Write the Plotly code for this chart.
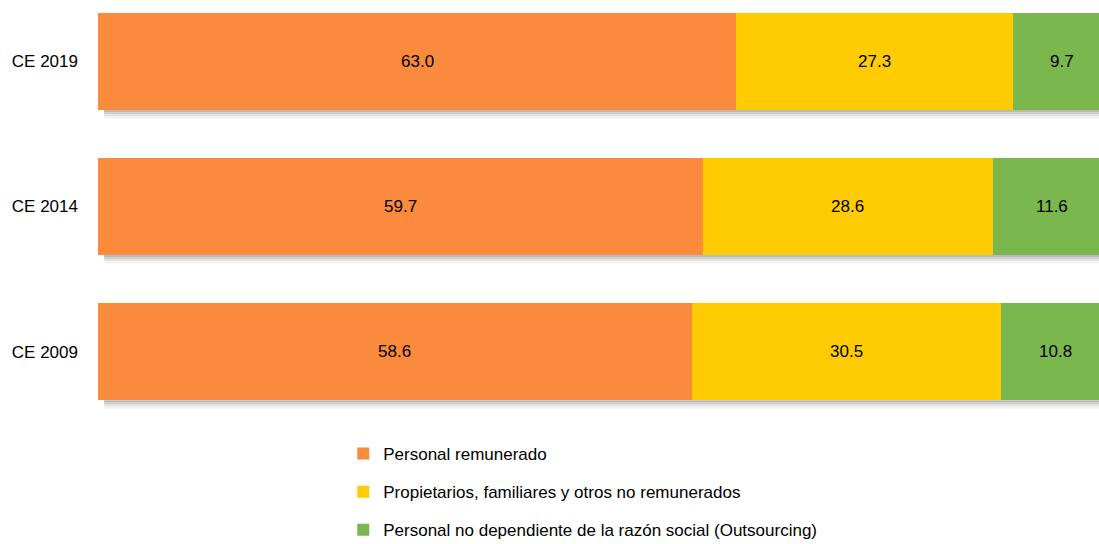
import plotly.graph_objects as go

categories = ["CE 2009", "CE 2014", "CE 2019"]
personal_remunerado = [58.6, 59.7, 63.0]
propietarios = [30.5, 28.6, 27.3]
outsourcing = [10.8, 11.6, 9.7]

series_names = [
    "Personal remunerado",
    "Propietarios, familiares y otros no remunerados",
    "Personal no dependiente de la razón social (Outsourcing)",
]
series_values = [personal_remunerado, propietarios, outsourcing]
colors = ["#FA8A3C", "#FFCC03", "#7AB84E"]

FONT = "Arial, Liberation Sans, sans-serif"
FS = 17
BAR_W = 0.67
ypos = list(range(len(categories)))

fig = go.Figure()
for name, vals, col in zip(series_names, series_values, colors):
    fig.add_trace(go.Bar(
        y=ypos, x=vals, name=name, orientation="h",
        marker=dict(color=col, line=dict(width=0)),
        width=BAR_W, legendgroup=name, hoverinfo="x+name",
    ))

# data labels centred on each segment
annotations = []
for i in ypos:
    base = 0.0
    for vals in series_values:
        v = vals[i]
        annotations.append(dict(
            x=base + v / 2, y=i, xref="x", yref="y", text=f"{v:.1f}",
            showarrow=False, font=dict(family=FONT, size=FS, color="#000000"),
        ))
        base += v

# soft shadow under each bar
shapes = []
px_per_unit = 145.0
layers = [(0.0, 2.0, 0.45), (2.0, 4.0, 0.32), (4.0, 6.0, 0.18), (6.0, 8.5, 0.08)]
for i in ypos:
    total = sum(vals[i] for vals in series_values)
    bottom = i - BAR_W / 2
    for a, b, op in layers:
        shapes.append(dict(
            type="rect", xref="x", yref="y", layer="below",
            x0=0.6, x1=total, y0=bottom - b / px_per_unit, y1=bottom - a / px_per_unit,
            fillcolor="#666666", opacity=op, line=dict(width=0),
        ))

fig.update_layout(
    width=1099, height=544,
    barmode="stack",
    paper_bgcolor="white", plot_bgcolor="white",
    margin=dict(l=98, r=0, t=0, b=124, autoexpand=False),
    font=dict(family=FONT, size=FS, color="#000000"),
    xaxis=dict(range=[0, 98.77], visible=False, fixedrange=True),
    yaxis=dict(
        range=[-0.472, 2.424], tickvals=ypos, ticktext=categories,
        showgrid=False, zeroline=False, showline=False, ticks="",
        ticklabelstandoff=19, tickfont=dict(family=FONT, size=FS, color="#000000"),
    ),
    legend=dict(
        orientation="v", x=0.245, xanchor="left",
        yref="container", y=1 - 436 / 544, yanchor="top",
        traceorder="grouped", tracegroupgap=13,
        font=dict(family=FONT, size=FS, color="#000000"),
        bgcolor="rgba(0,0,0,0)",
    ),
    annotations=annotations,
    shapes=shapes,
    bargap=0.33,
)

fig.write_html(
    "out.html",
    config={"displayModeBar": False},
    post_script="document.body.style.margin='0';document.body.style.overflow='hidden';",
)
